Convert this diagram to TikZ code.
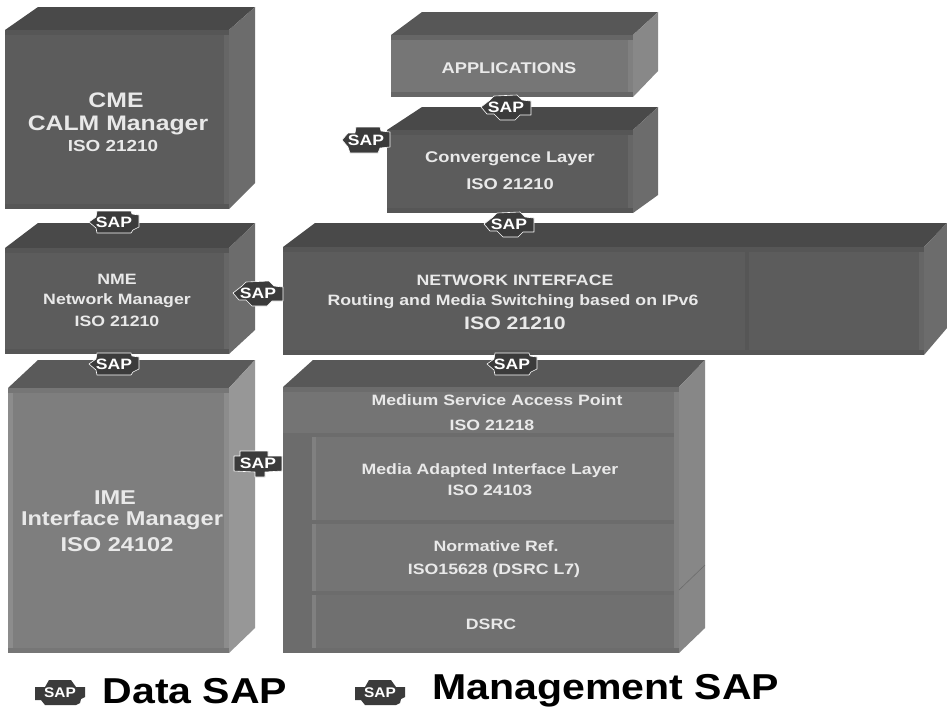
\documentclass[tikz,border=0pt]{standalone}
\usepackage{fontspec}
\setmainfont{Liberation Sans}
\newcommand{\fsz}[1]{\fontsize{#1}{#1}\selectfont\bfseries}
% left, right, top, bottom, backleft, backright, backtop, rightbottom, palette front/top/right/band
\newcommand{\solidblock}[9]{%
  \fill[#9T] (#1,#3) -- (#5,#7) -- (#6,#7) -- (#2,#3) -- cycle;
  \fill[#9R] (#2,#3) -- (#6,#7) -- (#6,#8) -- (#2,#4) -- cycle;
  \fill[#9F] (#1,#3) rectangle (#2,#4);
  \fill[#9B] (#1,#3) rectangle (#2,{#3+5});
  \fill[#9B] (#1,{#4-5}) rectangle (#2,#4);
  \fill[#9E] ({#2-5},{#3+5}) rectangle (#2,{#4-5});
}
\newcommand{\lbl}[6][1.18]{\node[labeltext] (#2) at (#3) {\scalebox{#1}[1]{\fsz{#4}\color{#5}#6}};}
\definecolor{txt}{HTML}{E9E9E9}
\definecolor{badge}{HTML}{3B3B3B}
\definecolor{dkF}{HTML}{5C5C5C}\definecolor{dkT}{HTML}{494949}\definecolor{dkR}{HTML}{6C6C6C}\definecolor{dkB}{HTML}{565656}\definecolor{dkE}{HTML}{666666}
\definecolor{apF}{HTML}{767676}\definecolor{apT}{HTML}{575757}\definecolor{apR}{HTML}{888888}\definecolor{apB}{HTML}{666666}\definecolor{apE}{HTML}{808080}
\definecolor{imF}{HTML}{7E7E7E}\definecolor{imT}{HTML}{5A5A5A}\definecolor{imR}{HTML}{979797}\definecolor{imB}{HTML}{767676}\definecolor{imE}{HTML}{8C8C8C}
\definecolor{meF}{HTML}{747474}\definecolor{meT}{HTML}{585858}\definecolor{meR}{HTML}{878787}\definecolor{meB}{HTML}{6C6C6C}\definecolor{meE}{HTML}{808080}
\tikzset{
  labeltext/.style={inner sep=0pt,outer sep=0pt,align=center},
  sapshape/.style={fill=badge,draw=white,line width=0.6pt,line join=round},
  saptext/.style={inner sep=0pt,text=white},
  sapa/.pic={\path[sapshape] (-25,0)--(-18,-5)--(-17,-11)--(17,-11)--(18,-8)--(25,-7)--(25,5)--(19,8)--(17,11)--(-17,11)--(-18,6)--cycle;
    \node[saptext] (-t) at (0,0) {\scalebox{1.17}[1]{\fsz{15}SAP}};},
  sapb/.pic={\path[sapshape] (-25,0)--(-16,-7)--(-12,-11)--(11,-12)--(16,-7)--(25,-6)--(25,8)--(14,8)--(9,13)--(-6,13)--(-12,7)--(-19,7)--cycle;
    \node[saptext] (-t) at (0,0) {\scalebox{1.17}[1]{\fsz{15}SAP}};},
  sapc/.pic={\path[sapshape] (-24,-7)--(-18,-7)--(-18,-12)--(10,-12)--(10,-7)--(24,-7)--(24,8)--(7,9)--(7,14)--(-3,14)--(-3,9)--(-24,8)--cycle;
    \node[saptext] (-t) at (0,0) {\scalebox{1.17}[1]{\fsz{15}SAP}};},
  sapd/.pic={\path[sapshape] (-24,0)--(-18,-7)--(-11,-7)--(-10,-13)--(14,-13)--(15,-9)--(24,-8)--(24,7)--(14,8)--(12,13)--(-16,13)--(-18,7)--cycle;
    \node[saptext] (-t) at (0,0) {\scalebox{1.17}[1]{\fsz{15}SAP}};},
  sape/.pic={\path[fill=badge] (-25,-6)--(-15,-6)--(-11,-13)--(11,-13)--(16,-6)--(25,-6)--(25,4)--(21,6)--(20,10)--(16,12)--(-15,12)--(-19,7)--(-25,7)--cycle;
    \node[saptext] (-t) at (0,0) {\scalebox{1.1}[1]{\fsz{14}SAP}};},
}
\begin{document}
\begin{tikzpicture}[x=1pt,y=-1pt]
\useasboundingbox[fill=white] (0,0) rectangle (947,713);
% blocks
\solidblock{5}{229}{30}{209}{38}{255}{7}{183}{dk}
\solidblock{391}{633}{35}{97}{422}{658}{12}{71}{ap}
\solidblock{387}{633}{130}{213}{422}{658}{107}{195}{dk}
\solidblock{5}{229}{248}{354}{38}{255}{223}{330}{dk}
\solidblock{283}{924}{247}{355}{315}{947}{223}{328}{dk}
\fill[dkB] (745,252) rectangle (749,350);
\solidblock{8}{229}{388}{653}{38}{255}{360}{628}{im}
\fill[imE] (8,393) rectangle (13,648);
\solidblock{283}{679}{387}{653}{313}{705}{360}{628}{me}
\fill[meB] (283,433) rectangle (674,437);
\fill[meB] (283,437) rectangle (312,648);
\fill[meE] (312,437) rectangle (316,648);
\fill[meB] (312,520) rectangle (674,524);
\fill[meB] (312,591) rectangle (674,595);
\fill[black!56] (316,595) rectangle (674,648);
\draw[meB,line width=0.6pt] (679,590) -- (705,565);
% SAP badges
\pic (sapcme) at (114,222) {sapa};
\pic (sapapp) at (506,107) {sapb};
\pic (sapconv) at (366,140) {sapd};
\pic (sapnet) at (509,224) {sapb};
\pic (sapnme) at (114,364) {sapa};
\pic (sapmed) at (512,364) {sapa};
\pic (sapside) at (258,293) {sapb};
\pic (sapime) at (258,463) {sapc};
\pic (legdata) at (60,693) {sape};
\pic (legmgmt) at (380,693) {sape};
% labels
\lbl{t1}{116,100}{21}{txt}{CME}
\lbl{t2}{118,125}{21}{txt}{CALM Manager}
\lbl{t3}{113,146}{16}{txt}{ISO 21210}
\lbl{t4}{509,68}{15.5}{txt}{APPLICATIONS}
\lbl{t5}{510,159}{15.5}{txt}{Convergence Layer}
\lbl{t6}{510,184}{15.5}{txt}{ISO 21210}
\lbl{t7}{117,279}{15}{txt}{NME}
\lbl{t8}{117,301}{15}{txt}{Network Manager}
\lbl{t9}{117,321}{15}{txt}{ISO 21210}
\lbl{t10}{515,280}{15}{txt}{NETWORK INTERFACE}
\lbl{t11}{513,302}{15}{txt}{Routing and Media Switching based on IPv6}
\lbl{t12}{515,323}{18}{txt}{ISO 21210}
\lbl{t13}{497,400}{15}{txt}{Medium Service Access Point}
\lbl{t14}{492,425}{15}{txt}{ISO 21218}
\lbl{t15}{490,471}{15}{txt}{Media Adapted Interface Layer}
\lbl{t16}{490,490}{15}{txt}{ISO 24103}
\lbl{t17}{496,546}{15}{txt}{Normative Ref.}
\lbl{t18}{494,571}{15}{txt}{ISO15628 (DSRC L7)}
\lbl{t19}{491,624}{15}{txt}{DSRC}
\lbl{t20}{115,498}{20}{txt}{IME}
\lbl{t21}{122,520}{20}{txt}{Interface Manager}
\lbl{t22}{117,545}{20}{txt}{ISO 24102}
\lbl[1.14]{t23}{195,691}{36}{black}{Data SAP}
\lbl[1.14]{t24}{606,691}{36}{black}{Management SAP}
\end{tikzpicture}
\end{document}
